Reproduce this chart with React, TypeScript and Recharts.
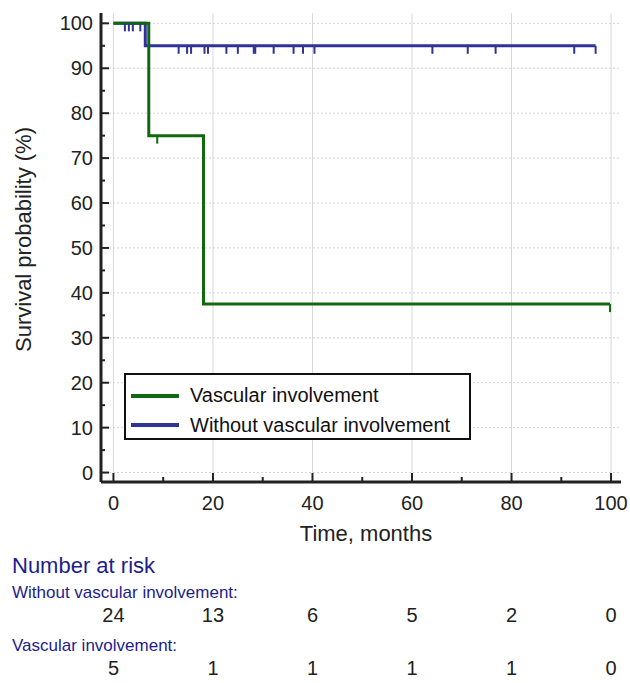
import React from "react";
import {
  ComposedChart,
  XAxis,
  YAxis,
  Line,
  Scatter,
  ReferenceLine,
  Legend,
  Label,
} from "recharts";

const FONT = '"Liberation Sans", Arial, Helvetica, sans-serif';
const GREEN = "#10690f";
const BLUE = "#2f3395";
const NAVY = "#1d1d8c";
const INK = "#222";

// survival curves (time in months, survival in %)
const withoutTimes = [0, 6.4, 96.9];
const withoutSurv = [100, 95, 95];
const withoutCensorTimes = [
  2.3, 3.1, 3.9, 5.4, 13.1, 14.8, 15.6, 18.3, 19.0, 22.7, 25.0, 28.2, 28.5,
  32.2, 36.2, 38.1, 40.4, 64.1, 71.2, 76.8, 92.6, 96.9,
];
const withoutCensorSurv = [
  100, 100, 100, 100, 95, 95, 95, 95, 95, 95, 95, 95, 95, 95, 95, 95, 95, 95,
  95, 95, 95, 95,
];

const vascTimes = [0, 7.1, 18.1, 99.8];
const vascSurv = [100, 75, 37.5, 37.5];
const vascCensorTimes = [8.8, 99.8];
const vascCensorSurv = [75, 37.5];

const timeTicks = [0, 10, 20, 30, 40, 50, 60, 70, 80, 90, 100];
const timeGrid = [0, 20, 40, 60, 80, 100];
const survTicks = [
  0, 5, 10, 15, 20, 25, 30, 35, 40, 45, 50, 55, 60, 65, 70, 75, 80, 85, 90, 95,
  100,
];
const survGrid = [0, 10, 20, 30, 40, 50, 60, 70, 80, 90, 100];

const riskTimes = [0, 20, 40, 60, 80, 100];
const riskWithout = [24, 13, 6, 5, 2, 0];
const riskWith = [5, 1, 1, 1, 1, 0];

const legendNames = ["Vascular involvement", "Without vascular involvement"];
const legendColors = [GREEN, BLUE];

const toPoints = (ts: number[], ss: number[]) =>
  ts.map((t, i) => ({ t, s: ss[i] }));

const withoutData = toPoints(withoutTimes, withoutSurv);
const withoutCensor = toPoints(withoutCensorTimes, withoutCensorSurv);
const vascData = toPoints(vascTimes, vascSurv);
const vascCensor = toPoints(vascCensorTimes, vascCensorSurv);
// invisible anchor so the number-at-risk axis gets rendered
const riskAnchor = toPoints(riskTimes, riskTimes.map(() => 0));

function TimeTick({ x, y, payload }: any) {
  const major = payload.value % 20 === 0;
  return (
    <g>
      <line x1={x} x2={x} y1={y} y2={y - (major ? 9 : 5)} stroke={INK} strokeWidth={2} />
      {major && (
        <text x={x} y={y + 21} textAnchor="middle" dominantBaseline="central"
          fontSize={20} fill={INK} fontFamily={FONT}>
          {payload.value}
        </text>
      )}
    </g>
  );
}

function SurvTick({ x, y, payload }: any) {
  const major = payload.value % 10 === 0;
  return (
    <g>
      <line x1={x} x2={x + (major ? 8 : 4)} y1={y} y2={y} stroke={INK} strokeWidth={2} />
      {major && (
        <text x={x - 8} y={y} textAnchor="end" dominantBaseline="central"
          fontSize={20} fill={INK} fontFamily={FONT}>
          {payload.value}
        </text>
      )}
    </g>
  );
}

function RiskTick({ x, y, payload }: any) {
  const i = riskTimes.indexOf(payload.value);
  return (
    <g fontFamily={FONT}>
      {i === 0 && (
        <>
          <text x={12} y={y + 15} fill={NAVY} fontSize={22} dominantBaseline="central">
            Number at risk
          </text>
          <text x={12} y={y + 42} fill={NAVY} fontSize={17} dominantBaseline="central">
            Without vascular involvement:
          </text>
          <text x={12} y={y + 95} fill={NAVY} fontSize={17} dominantBaseline="central">
            Vascular involvement:
          </text>
        </>
      )}
      <text x={x} y={y + 65} textAnchor="middle" dominantBaseline="central" fontSize={20} fill={INK}>
        {riskWithout[i]}
      </text>
      <text x={x} y={y + 118} textAnchor="middle" dominantBaseline="central" fontSize={20} fill={INK}>
        {riskWith[i]}
      </text>
    </g>
  );
}

function XTitle({ viewBox }: any) {
  const { x, y, width } = viewBox;
  return (
    <text x={x + width / 2 + 5} y={y + 51} textAnchor="middle" dominantBaseline="central"
      fontSize={22} fill={INK} fontFamily={FONT}>
      Time, months
    </text>
  );
}

function YTitle({ viewBox }: any) {
  const { x, y, height } = viewBox;
  const cx = x + 23;
  const cy = y + height / 2 - 8;
  return (
    <text x={cx} y={cy} transform={`rotate(-90 ${cx} ${cy})`} textAnchor="middle"
      dominantBaseline="central" fontSize={22} fill={INK} fontFamily={FONT}>
      Survival probability (%)
    </text>
  );
}

function LegendBox() {
  return (
    <div style={{ border: "2px solid #111", background: "#fff", width: 347, height: 67,
      padding: "6px 0 0 5px", boxSizing: "border-box", fontFamily: FONT, fontSize: 20, color: "#111" }}>
      {legendNames.map((n, i) => (
        <div key={n} style={{ display: "flex", alignItems: "center", height: 29.5 }}>
          <svg width={48} height={6} style={{ display: "block" }}>
            <line x1={0} x2={48} y1={3} y2={3} stroke={legendColors[i]} strokeWidth={4} />
          </svg>
          <span style={{ marginLeft: 11, whiteSpace: "nowrap" }}>{n}</span>
        </div>
      ))}
    </div>
  );
}

const censorShape = (color: string) => (p: any) =>
  <line x1={p.cx} x2={p.cx} y1={p.cy} y2={p.cy + 8} stroke={color} strokeWidth={2} />;

const hiddenShape = () => <g />;

export default function App() {
  return (
    <div style={{ position: "absolute", left: 0, top: 0, width: 630, height: 683, background: "#fff" }}>
      <ComposedChart width={630} height={683} margin={{ top: 13, right: 9, bottom: 0, left: 0 }}>
        <XAxis type="number" dataKey="t" domain={[-2.5, 102]} ticks={timeTicks} interval={0}
          allowDataOverflow height={68} tickSize={0} tickMargin={0} tickLine={false}
          axisLine={{ stroke: INK, strokeWidth: 3 }} tick={<TimeTick />}>
          <Label content={XTitle} />
        </XAxis>
        <XAxis xAxisId="risk" type="number" dataKey="t" domain={[-2.5, 102]} ticks={riskTimes}
          interval={0} allowDataOverflow height={133} tickSize={0} tickMargin={0}
          tickLine={false} axisLine={false} tick={<RiskTick />} />
        <YAxis type="number" dataKey="s" domain={[-2.1, 102.3]} ticks={survTicks} interval={0}
          allowDataOverflow width={101} tickSize={0} tickMargin={0} tickLine={false}
          axisLine={{ stroke: INK, strokeWidth: 3 }} tick={<SurvTick />}>
          <Label content={YTitle} />
        </YAxis>

        {survGrid.map((v) => (
          <ReferenceLine key={`h${v}`} y={v} stroke="#d4d4d4" strokeDasharray="2 2" />
        ))}
        {timeGrid.map((v) => (
          <ReferenceLine key={`v${v}`} x={v} stroke="#d8d8d8" />
        ))}

        <Scatter xAxisId="risk" data={riskAnchor} dataKey="s" shape={hiddenShape}
          legendType="none" isAnimationActive={false} />

        <Line data={withoutData} dataKey="s" type="stepAfter" stroke={BLUE} strokeWidth={3}
          dot={false} activeDot={false} isAnimationActive={false} name={legendNames[1]} />
        <Scatter data={withoutCensor} dataKey="s" shape={censorShape(BLUE)}
          legendType="none" isAnimationActive={false} />
        <Line data={vascData} dataKey="s" type="stepAfter" stroke={GREEN} strokeWidth={3}
          dot={false} activeDot={false} isAnimationActive={false} name={legendNames[0]} />
        <Scatter data={vascCensor} dataKey="s" shape={censorShape(GREEN)}
          legendType="none" isAnimationActive={false} />

        <Legend layout="vertical" align="center" verticalAlign="middle"
          wrapperStyle={{ left: 124, top: 373, width: 347 }} content={<LegendBox />} />
      </ComposedChart>
    </div>
  );
}
